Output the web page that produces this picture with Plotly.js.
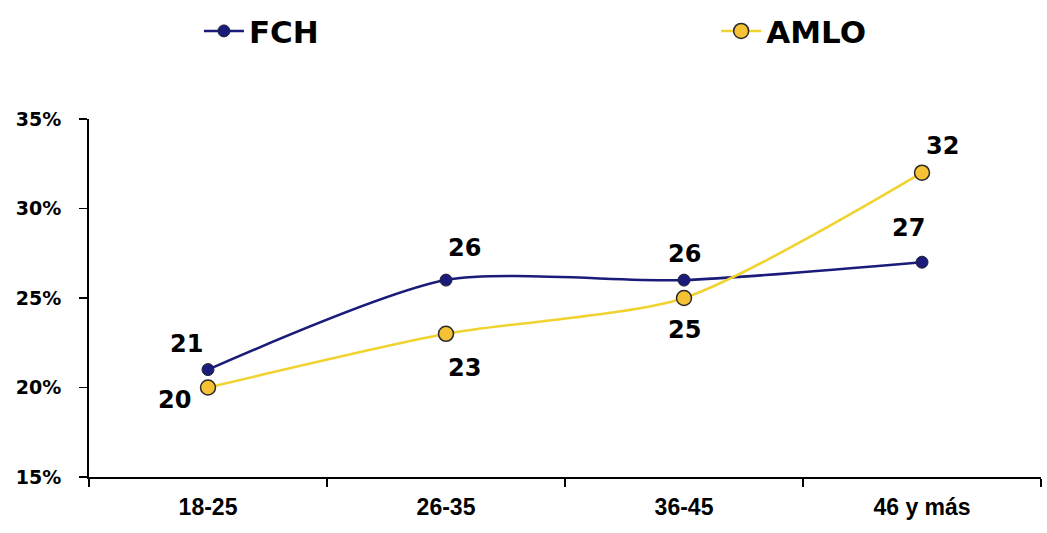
<!DOCTYPE html>
<html>
<head>
<meta charset="utf-8">
<script src="https://cdn.plot.ly/plotly-3.0.1.min.js"></script>
<style>html,body{margin:0;padding:0;background:#fff;}#chart{width:1047px;height:533px;}</style>
</head>
<body>
<div id="chart"></div>
<script>
const categories = ["18-25", "26-35", "36-45", "46 y más"];
const fch = [21, 26, 26, 27];
const amlo = [20, 23, 25, 32];
const yTickVals = [15, 20, 25, 30, 35];
const yTickText = ["15%", "20%", "25%", "30%", "35%"];

const fchColor = "#1b1b7a";
const amloLine = "#f1d330";
const amloFill = "#f4c234";

// label offsets (px) for each point — styling only
const fchOff = [[-22, 26], [18, 32], [0, 26], [-14, 34]];
const amloOff = [[-34, -12], [18, -34], [0, -32], [20, 27]];

const traces = [
  {
    x: categories, y: fch, name: "FCH", type: "scatter", mode: "lines+markers",
    legend: "legend",
    line: {color: fchColor, width: 2.5, shape: "spline", smoothing: 0.7},
    marker: {color: fchColor, size: 12, line: {color: "#223", width: 1}}
  },
  {
    x: categories, y: amlo, name: "AMLO", type: "scatter", mode: "lines+markers",
    legend: "legend2",
    line: {color: amloLine, width: 2.5, shape: "spline", smoothing: 0.7},
    marker: {color: amloFill, size: 15, line: {color: "#2a2a2a", width: 1.5}}
  }
];

const labelFont = {family: "DejaVu Sans, Verdana, sans-serif", size: 24, color: "#000", weight: "bold"};
const annotations = [];
fch.forEach((v, i) => annotations.push({
  x: categories[i], y: v, text: "<b>" + v + "</b>", showarrow: false,
  xshift: fchOff[i][0], yshift: fchOff[i][1], font: labelFont
}));
amlo.forEach((v, i) => annotations.push({
  x: categories[i], y: v, text: "<b>" + v + "</b>", showarrow: false,
  xshift: amloOff[i][0], yshift: amloOff[i][1], font: labelFont
}));

const legendFont = {family: "DejaVu Sans, Arial, sans-serif", size: 31, color: "#000", weight: "bold"};

const layout = {
  width: 1047, height: 533,
  margin: {l: 89, r: 6, t: 119, b: 56},
  paper_bgcolor: "#fff", plot_bgcolor: "#fff",
  showlegend: true,
  legend: {
    orientation: "h", xref: "container", yref: "container",
    x: 0.19, y: 0.992, xanchor: "left", yanchor: "top",
    font: legendFont, itemwidth: 40
  },
  legend2: {
    orientation: "h", xref: "container", yref: "container",
    x: 0.684, y: 0.992, xanchor: "left", yanchor: "top",
    font: legendFont, itemwidth: 40
  },
  xaxis: {
    type: "category", range: [-0.5, 3.5], tickson: "boundaries",
    showline: true, linecolor: "#000", linewidth: 2,
    ticks: "outside", ticklen: 8, tickcolor: "#000", tickwidth: 1.5,
    showgrid: false, zeroline: false, fixedrange: true,
    tickfont: {family: "Liberation Sans, Arial, sans-serif", size: 23, color: "#000", weight: "bold"},
    ticklabelstandoff: 8
  },
  yaxis: {
    range: [15, 35], tickvals: yTickVals, ticktext: yTickText,
    showline: true, linecolor: "#000", linewidth: 2,
    ticks: "outside", ticklen: 8, tickcolor: "#000", tickwidth: 1.5,
    showgrid: false, zeroline: false, fixedrange: true,
    tickfont: {family: "DejaVu Sans, Verdana, sans-serif", size: 19, color: "#000", weight: "bold"},
    ticklabelstandoff: 14
  },
  annotations: annotations
};

Plotly.newPlot("chart", traces, layout, {displayModeBar: false, staticPlot: true});
</script>
</body>
</html>
